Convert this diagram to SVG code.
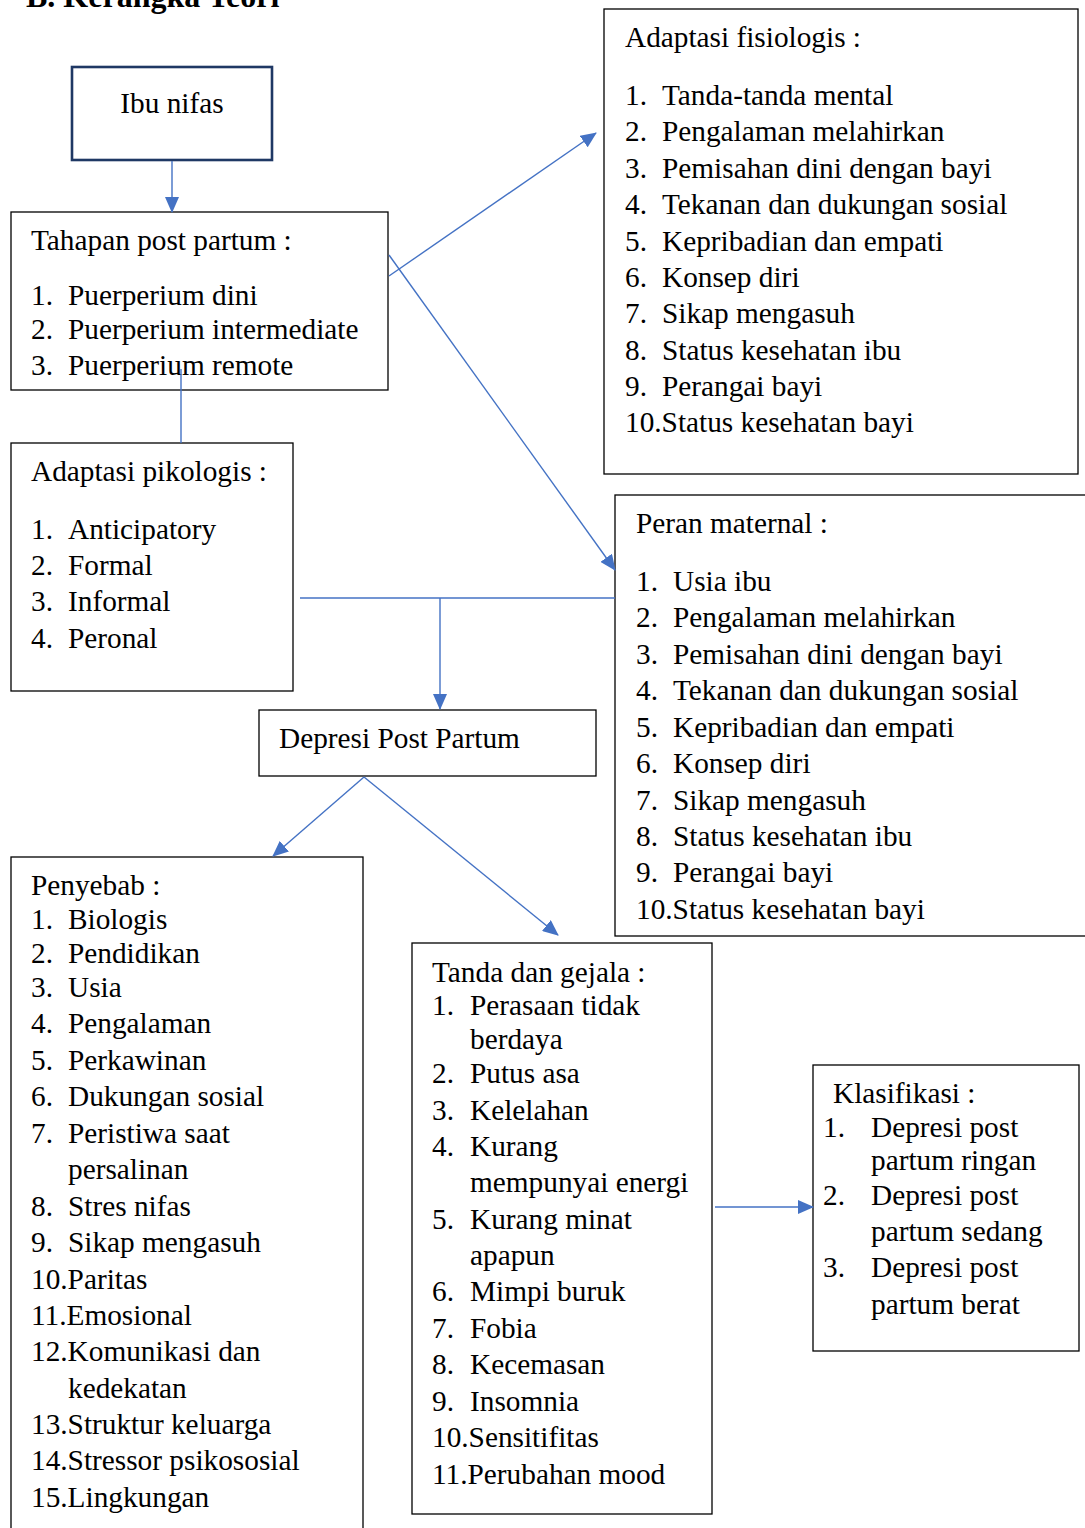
<svg xmlns="http://www.w3.org/2000/svg" width="1085" height="1528" viewBox="0 0 1085 1528">
<style>
text{font-family:"Liberation Serif","Times New Roman",serif;font-size:29.3px;fill:#000}
.box{fill:#fff;stroke:#000;stroke-width:1.3}
.navy{fill:#fff;stroke:#1F3864;stroke-width:2.6}
.ln{stroke:#4472C4;stroke-width:1.4;fill:none}
.title{font-weight:bold;font-size:32px}
</style>
<defs>
<marker id="ah" markerUnits="userSpaceOnUse" markerWidth="16" markerHeight="14" refX="15" refY="7" orient="auto">
<path d="M0,0 L16,7 L0,14 Z" fill="#4472C4"/>
</marker>
</defs>
<rect width="1085" height="1528" fill="#fff"/>
<text class="title" x="26" y="7">B. Kerangka Teori</text>

<g id="ibu-nifas">
<rect class="navy" x="72" y="67" width="200" height="93"/>
<text x="172" y="113" text-anchor="middle">Ibu nifas</text>
</g>

<g id="tahapan">
<rect class="box" x="11" y="212" width="377" height="178"/>
<text x="31" y="250">Tahapan post partum :</text>
<text x="31" y="305">1.</text><text x="68" y="305">Puerperium dini</text>
<text x="31" y="339">2.</text><text x="68" y="339">Puerperium intermediate</text>
<text x="31" y="375">3.</text><text x="68" y="375">Puerperium remote</text>
</g>

<g id="adaptasi-pikologis">
<rect class="box" x="11" y="443" width="282" height="248"/>
<text x="31" y="481">Adaptasi pikologis :</text>
<text x="31" y="539">1.</text><text x="68" y="539">Anticipatory</text>
<text x="31" y="575">2.</text><text x="68" y="575">Formal</text>
<text x="31" y="611">3.</text><text x="68" y="611">Informal</text>
<text x="31" y="648">4.</text><text x="68" y="648">Peronal</text>
</g>

<g id="adaptasi-fisiologis">
<rect class="box" x="604" y="9" width="474" height="465"/>
<text x="625" y="47">Adaptasi fisiologis :</text>
<text x="625" y="105">1.</text><text x="662" y="105">Tanda-tanda mental</text>
<text x="625" y="141">2.</text><text x="662" y="141">Pengalaman melahirkan</text>
<text x="625" y="178">3.</text><text x="662" y="178">Pemisahan dini dengan bayi</text>
<text x="625" y="214">4.</text><text x="662" y="214">Tekanan dan dukungan sosial</text>
<text x="625" y="251">5.</text><text x="662" y="251">Kepribadian dan empati</text>
<text x="625" y="287">6.</text><text x="662" y="287">Konsep diri</text>
<text x="625" y="323">7.</text><text x="662" y="323">Sikap mengasuh</text>
<text x="625" y="360">8.</text><text x="662" y="360">Status kesehatan ibu</text>
<text x="625" y="396">9.</text><text x="662" y="396">Perangai bayi</text>
<text x="625" y="432">10.Status kesehatan bayi</text>
</g>

<g id="peran-maternal">
<rect class="box" x="615" y="495" width="480" height="441"/>
<text x="636" y="533">Peran maternal :</text>
<text x="636" y="591">1.</text><text x="673" y="591">Usia ibu</text>
<text x="636" y="627">2.</text><text x="673" y="627">Pengalaman melahirkan</text>
<text x="636" y="664">3.</text><text x="673" y="664">Pemisahan dini dengan bayi</text>
<text x="636" y="700">4.</text><text x="673" y="700">Tekanan dan dukungan sosial</text>
<text x="636" y="737">5.</text><text x="673" y="737">Kepribadian dan empati</text>
<text x="636" y="773">6.</text><text x="673" y="773">Konsep diri</text>
<text x="636" y="810">7.</text><text x="673" y="810">Sikap mengasuh</text>
<text x="636" y="846">8.</text><text x="673" y="846">Status kesehatan ibu</text>
<text x="636" y="882">9.</text><text x="673" y="882">Perangai bayi</text>
<text x="636" y="919">10.Status kesehatan bayi</text>
</g>

<g id="depresi">
<rect class="box" x="259" y="710" width="337" height="66"/>
<text x="279" y="748">Depresi Post Partum</text>
</g>

<g id="penyebab">
<rect class="box" x="11" y="857" width="352" height="700"/>
<text x="31" y="895">Penyebab :</text>
<text x="31" y="929">1.</text><text x="68" y="929">Biologis</text>
<text x="31" y="963">2.</text><text x="68" y="963">Pendidikan</text>
<text x="31" y="997">3.</text><text x="68" y="997">Usia</text>
<text x="31" y="1033">4.</text><text x="68" y="1033">Pengalaman</text>
<text x="31" y="1070">5.</text><text x="68" y="1070">Perkawinan</text>
<text x="31" y="1106">6.</text><text x="68" y="1106">Dukungan sosial</text>
<text x="31" y="1143">7.</text><text x="68" y="1143">Peristiwa saat</text>
<text x="68" y="1179">persalinan</text>
<text x="31" y="1216">8.</text><text x="68" y="1216">Stres nifas</text>
<text x="31" y="1252">9.</text><text x="68" y="1252">Sikap mengasuh</text>
<text x="31" y="1289">10.Paritas</text>
<text x="31" y="1325">11.Emosional</text>
<text x="31" y="1361">12.Komunikasi dan</text>
<text x="68" y="1398">kedekatan</text>
<text x="31" y="1434">13.Struktur keluarga</text>
<text x="31" y="1470">14.Stressor psikososial</text>
<text x="31" y="1507">15.Lingkungan</text>
</g>

<g id="tanda-gejala">
<rect class="box" x="412" y="943" width="300" height="571"/>
<text x="432" y="982">Tanda dan gejala :</text>
<text x="432" y="1015">1.</text><text x="470" y="1015">Perasaan tidak</text>
<text x="470" y="1049">berdaya</text>
<text x="432" y="1083">2.</text><text x="470" y="1083">Putus asa</text>
<text x="432" y="1120">3.</text><text x="470" y="1120">Kelelahan</text>
<text x="432" y="1156">4.</text><text x="470" y="1156">Kurang</text>
<text x="470" y="1192">mempunyai energi</text>
<text x="432" y="1229">5.</text><text x="470" y="1229">Kurang minat</text>
<text x="470" y="1265">apapun</text>
<text x="432" y="1301">6.</text><text x="470" y="1301">Mimpi buruk</text>
<text x="432" y="1338">7.</text><text x="470" y="1338">Fobia</text>
<text x="432" y="1374">8.</text><text x="470" y="1374">Kecemasan</text>
<text x="432" y="1411">9.</text><text x="470" y="1411">Insomnia</text>
<text x="432" y="1447">10.Sensitifitas</text>
<text x="432" y="1484">11.Perubahan mood</text>
</g>

<g id="klasifikasi">
<rect class="box" x="813" y="1065" width="266" height="286"/>
<text x="833" y="1103">Klasifikasi :</text>
<text x="823" y="1137">1.</text><text x="871" y="1137">Depresi post</text>
<text x="871" y="1170">partum ringan</text>
<text x="823" y="1205">2.</text><text x="871" y="1205">Depresi post</text>
<text x="871" y="1241">partum sedang</text>
<text x="823" y="1277">3.</text><text x="871" y="1277">Depresi post</text>
<text x="871" y="1314">partum berat</text>
</g>

<g id="connectors">
<line class="ln" x1="172" y1="161" x2="172" y2="212" marker-end="url(#ah)"/>
<line class="ln" x1="389" y1="276" x2="596" y2="133" marker-end="url(#ah)"/>
<line class="ln" x1="389" y1="255" x2="615" y2="570" marker-end="url(#ah)"/>
<line class="ln" x1="181" y1="369" x2="181" y2="443"/>
<line class="ln" x1="300" y1="598" x2="615" y2="598"/>
<line class="ln" x1="440" y1="598" x2="440" y2="709" marker-end="url(#ah)"/>
<line class="ln" x1="364" y1="777" x2="273" y2="856" marker-end="url(#ah)"/>
<line class="ln" x1="364" y1="777" x2="558" y2="935" marker-end="url(#ah)"/>
<line class="ln" x1="715" y1="1207" x2="813" y2="1207" marker-end="url(#ah)"/>
</g>
</svg>
